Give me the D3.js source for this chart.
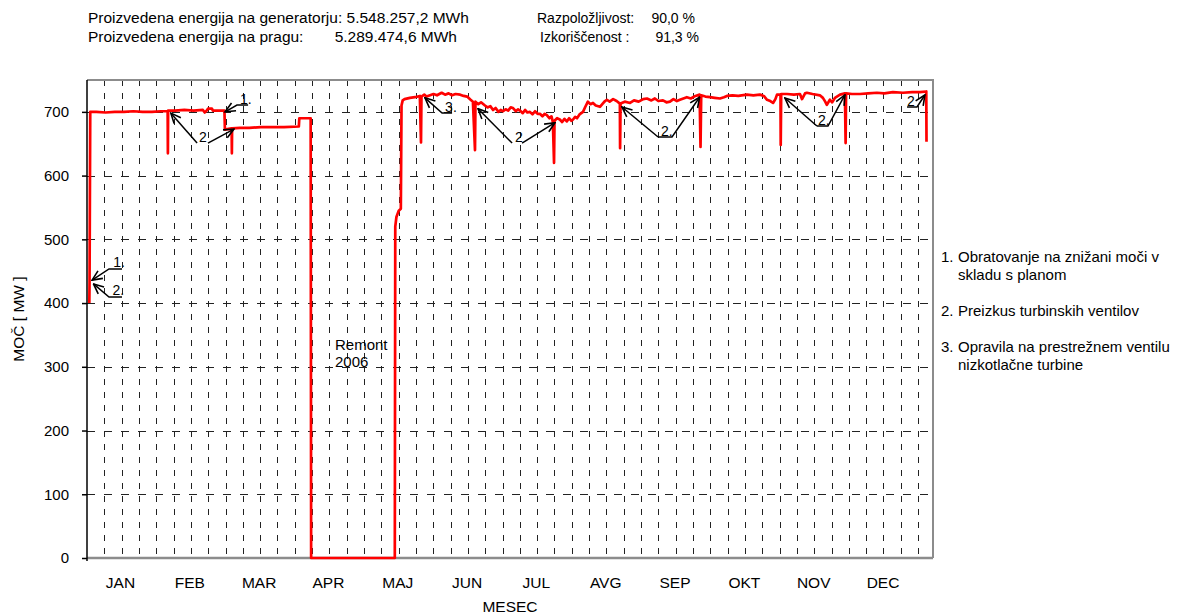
<!DOCTYPE html>
<html>
<head>
<meta charset="utf-8">
<script src="https://cdn.jsdelivr.net/npm/d3@7"></script>
<style>
  body { margin: 0; background: #fff; }
  text { font-family: "Liberation Sans", Arial, sans-serif; fill: #000; }
</style>
</head>
<body>
<svg id="chart"></svg>
<script>
const WIDTH = 1178;
const HEIGHT = 614;

// power output over the year: [day of year, MW]
const POWER = [
  [1.0, 400], [1.1, 433], [1.4, 700],
  [4, 700], [8, 699], [12, 700], [16, 700], [20, 701], [24, 700], [28, 700], [32, 701],
  [34.8, 701], [34.9, 635], [35.0, 702],
  [38, 702], [42, 703], [46, 702], [50, 703], [50.8, 699], [51.6, 702], [52.2, 705], [53.9, 705],
  [54.3, 702], [57, 702], [59.3, 702], [59.5, 672], [60.5, 673], [62.4, 674], [62.5, 635], [62.6, 674],
  [66, 675], [70, 675], [75, 676], [80, 676], [85, 676], [91.4, 677], [91.6, 690], [96.5, 690], [96.7, 0],
  [132.8, 0], [133.0, 520], [133.5, 535], [134.5, 545], [135.4, 548], [135.7, 710], [136.2, 718],
  [137, 720], [139.3, 722], [141.5, 723], [143.6, 725], [144.1, 652], [144.3, 724],
  [145.5, 727], [146.5, 724], [148, 726], [149.5, 728], [151, 726], [153, 730], [154.5, 727], [156, 729],
  [157.5, 726], [159, 728], [161, 727], [162.5, 725], [164, 724], [165.5, 719], [166.5, 716],
  [167.4, 640], [167.6, 716], [168.8, 712], [170, 715], [171.7, 710], [172.8, 707], [174, 709],
  [175.2, 703], [176.3, 706], [177.5, 700], [178.5, 703], [179.5, 701], [180.6, 704], [181.7, 702],
  [182.8, 707], [183.8, 706], [185, 701], [186, 704], [186.8, 702], [188, 698], [189, 703], [190, 699],
  [191.1, 700], [192.2, 696], [193.3, 701], [194.4, 697], [195.4, 697], [196.5, 693], [197.5, 697],
  [198.4, 695], [199.5, 690], [200.4, 693], [201, 684], [201.5, 620], [201.7, 686], [202.8, 690],
  [204, 688], [205, 684], [206, 689], [207, 685], [208, 690], [209, 686], [209.7, 688], [210.6, 692],
  [211.4, 690], [212.5, 696], [214, 700], [215, 708], [216.1, 716], [217.2, 712], [218.3, 714],
  [219.5, 710], [221.3, 708], [222.5, 713], [223.5, 717], [224.3, 719], [225.5, 716], [227, 720],
  [228.5, 717], [229.9, 713], [230, 643], [230.2, 713], [232, 716], [234.3, 714], [236, 718],
  [238, 716], [240, 720], [241.6, 721], [243.5, 718], [245, 721], [246.5, 717], [248.5, 718],
  [250, 715], [251.5, 716], [253, 720], [254.5, 717], [255.8, 719], [257.3, 721], [258.8, 723],
  [260.5, 721], [262.5, 725], [264.3, 727], [264.7, 645], [265, 726], [266.8, 724], [268.8, 723],
  [270.8, 722], [273.1, 721], [274.8, 723], [276.1, 725], [278.5, 726], [281, 725], [284.7, 727],
  [287.5, 726], [290.3, 727], [292, 725], [293.4, 719], [294.8, 717], [296, 714], [297, 720],
  [297.7, 727], [299.2, 727], [299.3, 648], [299.5, 728], [302, 728], [305, 727], [307.6, 728],
  [308.5, 720], [309.8, 729], [310.6, 730], [313, 728], [316.2, 726], [317.5, 722], [318.5, 716],
  [319.2, 711], [320.5, 719], [321.5, 715], [322.7, 722], [324.9, 727], [327, 729], [327.3, 651],
  [327.5, 729], [330, 728], [333.5, 728], [337, 729], [340.8, 730], [344, 729], [347.7, 731],
  [352, 730], [356, 731], [359.4, 731], [362.1, 732], [362.2, 653]
];

const MONTHS = ["JAN", "FEB", "MAR", "APR", "MAJ", "JUN", "JUL", "AVG", "SEP", "OKT", "NOV", "DEC"];
const Y_TICKS = [0, 100, 200, 300, 400, 500, 600, 700];
const GRID_STEP = 7.47; // days between vertical grid lines

// annotation labels with their leader lines, in [day, MW]
const NOTES = [
  { label: "1.", at: [11.3, 456], leaders: [[[15.1, 453.5], [9.5, 453.5], [2.2, 436]]] },
  { label: "2.", at: [11.0, 412], leaders: [[[15.1, 409.5], [9.5, 409.5], [2.8, 430]]] },
  { label: "2", at: [48.3, 653], leaders: [[[47.5, 651], [36.2, 698]], [[52.2, 651], [63.4, 673]]] },
  { label: "1.", at: [66.0, 713], leaders: [[[69.5, 710.8], [64.7, 710.8], [59.6, 700]]] },
  { label: "3.", at: [154.5, 700], leaders: [[[157.5, 698.2], [153.2, 698.2], [145.8, 722]]] },
  { label: "2", at: [184.7, 653], leaders: [[[183.4, 651], [168.7, 705]], [[187.7, 651], [201.9, 683]]] },
  { label: "2.", at: [247.6, 662], leaders: [[[246.4, 660.5], [230.8, 707.6]], [[246.4, 660.5], [252.4, 660.5], [264.3, 723]]] },
  { label: "2.", at: [315.4, 679], leaders: [[[314.9, 677.8], [301.1, 721.8]], [[314.9, 677.8], [319.7, 677.8], [327.0, 726.5]]] },
  { label: "2", at: [353.8, 709], leaders: [[[353.8, 707.6], [358.1, 707.6], [361.5, 726.5]]] }
];

const OUTAGE_TEXT = ["Remont", "2006"];
const OUTAGE_AT = [107, 326];

const HEADER_LEFT = [
  ["Proizvedena energija na generatorju: 5.548.257,2 MWh", ""],
  ["Proizvedena energija na pragu:", "5.289.474,6 MWh"]
];
const HEADER_RIGHT = [
  ["Razpoložljivost:", "90,0 %"],
  ["Izkoriščenost :", "91,3 %"]
];

const LEGEND = [
  ["1.", ["Obratovanje na znižani moči v", "skladu s planom"]],
  ["2.", ["Preizkus turbinskih ventilov"]],
  ["3.", ["Opravila na prestrežnem ventilu", "nizkotlačne turbine"]]
];

const M = { left: 87, right: 933, top: 80, bottom: 558 };

const svg = d3.select("#chart").attr("width", WIDTH).attr("height", HEIGHT);

const x = d3.scaleLinear().domain([0, 365]).range([M.left, M.right]);
const y = d3.scaleLinear().domain([0, 750]).range([M.bottom, M.top]);

// grid
const vGrid = d3.range(GRID_STEP, 365 - 1, GRID_STEP);
svg.append("g")
  .selectAll("line")
  .data(vGrid)
  .join("line")
  .attr("x1", (d) => Math.round(x(d)) + 0.5)
  .attr("x2", (d) => Math.round(x(d)) + 0.5)
  .attr("y1", M.top)
  .attr("y2", M.bottom)
  .attr("stroke", "#222")
  .attr("stroke-dasharray", "6,7");

svg.append("g")
  .selectAll("line")
  .data(Y_TICKS.slice(1))
  .join("line")
  .attr("x1", M.left)
  .attr("x2", M.right)
  .attr("y1", (d) => Math.round(y(d)) + 0.5)
  .attr("y2", (d) => Math.round(y(d)) + 0.5)
  .attr("stroke", "#222")
  .attr("stroke-dasharray", "8,9");

// frame
svg.append("path")
  .attr("d", `M${M.left},${M.top}H${M.right}V${M.bottom}`)
  .attr("fill", "none")
  .attr("stroke", "#8c8c8c")
  .attr("stroke-width", 2);
svg.append("line")
  .attr("x1", M.left).attr("x2", M.right)
  .attr("y1", M.bottom).attr("y2", M.bottom)
  .attr("stroke", "#8c8c8c")
  .attr("stroke-width", 2.5);

// y axis
const yAxis = svg.append("g")
  .attr("transform", `translate(${M.left},0)`)
  .call(d3.axisLeft(y).tickValues(Y_TICKS).tickSize(5).tickPadding(13));
yAxis.select(".domain").attr("stroke", "#000").attr("stroke-width", 1.5).attr("d", `M0,${M.top}V${M.bottom + 3}`);
yAxis.selectAll(".tick line").attr("stroke", "#000").attr("stroke-width", 1.5);
yAxis.selectAll(".tick text").attr("font-size", 15).attr("font-family", "Liberation Sans, Arial, sans-serif");

// month labels
const mx = d3.scalePoint().domain(MONTHS).range([120.5, 883]);
svg.append("g")
  .selectAll("text")
  .data(MONTHS)
  .join("text")
  .attr("x", (d) => mx(d))
  .attr("y", 588)
  .attr("text-anchor", "middle")
  .attr("font-size", 15.5)
  .text((d) => d);

svg.append("text")
  .attr("x", (M.left + M.right) / 2)
  .attr("y", 612)
  .attr("text-anchor", "middle")
  .attr("font-size", 15.5)
  .text("MESEC");

svg.append("text")
  .attr("transform", `translate(24,${(M.top + M.bottom) / 2}) rotate(-90)`)
  .attr("text-anchor", "middle")
  .attr("font-size", 15.5)
  .text("MOČ [ MW ]");

// power line
svg.append("path")
  .datum(POWER)
  .attr("fill", "none")
  .attr("stroke", "#ff0000")
  .attr("stroke-width", 2.7)
  .attr("stroke-linejoin", "round")
  .attr("d", d3.line().x((d) => x(d[0])).y((d) => y(d[1])));

// annotations
svg.append("defs")
  .append("marker")
  .attr("id", "arrow")
  .attr("markerUnits", "userSpaceOnUse")
  .attr("viewBox", "0 0 12 12")
  .attr("refX", 11)
  .attr("refY", 6)
  .attr("markerWidth", 12)
  .attr("markerHeight", 12)
  .attr("orient", "auto")
  .append("path")
  .attr("d", "M1,1.5L11,6L1,10.5")
  .attr("fill", "none")
  .attr("stroke", "#000")
  .attr("stroke-width", 1.6);

const noteG = svg.append("g");
NOTES.forEach((n) => {
  noteG.append("text")
    .attr("x", x(n.at[0]))
    .attr("y", y(n.at[1]))
    .attr("font-size", 14)
    .attr("fill", "#222")
    .text(n.label);
  n.leaders.forEach((pts) => {
    noteG.append("path")
      .attr("d", d3.line().x((d) => x(d[0])).y((d) => y(d[1]))(pts))
      .attr("fill", "none")
      .attr("stroke", "#000")
      .attr("stroke-width", 1.5)
      .attr("marker-end", "url(#arrow)");
  });
});

svg.append("g")
  .selectAll("text")
  .data(OUTAGE_TEXT)
  .join("text")
  .attr("x", x(OUTAGE_AT[0]))
  .attr("y", (d, i) => y(OUTAGE_AT[1]) + i * 17)
  .attr("font-size", 15)
  .text((d) => d);

// header
const head = svg.append("g").attr("font-size", 15.5);
HEADER_LEFT.forEach((row, i) => {
  head.append("text").attr("x", 88).attr("y", 23 + i * 19).text(row[0]);
  if (row[1]) head.append("text").attr("x", 457).attr("y", 23 + i * 19).attr("text-anchor", "end").text(row[1]);
});
const headR = svg.append("g").attr("font-size", 14);
HEADER_RIGHT.forEach((row, i) => {
  headR.append("text").attr("x", 537 + i * 3).attr("y", 23 + i * 19).text(row[0]);
  headR.append("text").attr("x", 695 + i * 4).attr("y", 23 + i * 19).attr("text-anchor", "end").text(row[1]);
});

// legend
const leg = svg.append("g").attr("font-size", 15);
let ly = 262;
LEGEND.forEach((item) => {
  leg.append("text").attr("x", 941).attr("y", ly).text(item[0]);
  item[1].forEach((line, j) => {
    leg.append("text").attr("x", 958).attr("y", ly + j * 18).text(line);
  });
  ly += item[1].length * 18 + 18;
});
</script>
</body>
</html>
